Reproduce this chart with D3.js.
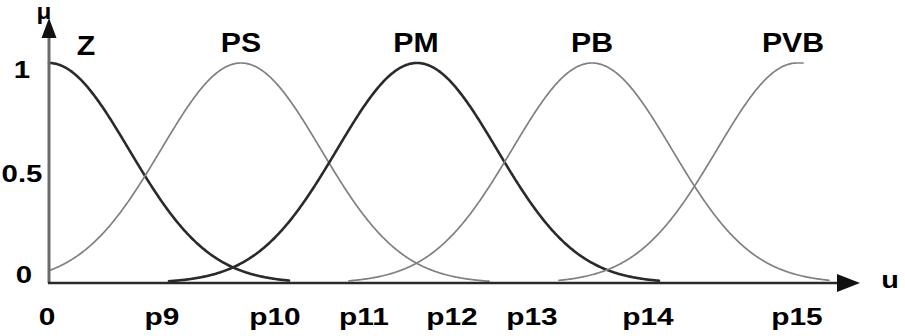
<!DOCTYPE html>
<html><head><meta charset="utf-8">
<script src="https://cdn.jsdelivr.net/npm/d3@7"></script>
<style>
html,body{margin:0;padding:0;background:#fff;}
svg{display:block;}
text{font-family:"Liberation Sans",Arial,sans-serif;font-weight:bold;fill:#000;}
</style></head>
<body>
<svg id="chart" width="905" height="336"></svg>
<script>
// ---- data ----
const setNames   = ["Z", "PS", "PM", "PB", "PVB"];
const setCenters = [0, 1.92, 3.68, 5.43, 7.48];
const setSigmas  = [0.80, 0.80, 0.80, 0.80, 0.80];
const setFrom    = [0, 0, 1.2, 3.0, 5.1];
const setTo      = [2.4, 4.4, 6.1, 7.8, 7.54];
const setDark    = [true, false, true, false, false];
const xTickPos    = [-0.02, 1.13, 2.26, 3.15, 4.03, 4.83, 5.99, 7.48];
const xTickLabels = ["0", "p9", "p10", "p11", "p12", "p13", "p14", "p15"];
const yTickVals   = [0, 0.5, 1];
const yTickLabels = ["0", "0.5", "1"];

const svg = d3.select("#chart");
const x = d3.scaleLinear().domain([0, 8.11]).range([49, 860]);
const y = d3.scaleLinear().domain([0, 1]).range([283, 63]);

// membership curves
const line = d3.line().x(d => x(d[0])).y(d => y(d[1])).curve(d3.curveLinear);
setNames.forEach((n, i) => {
  const c = setCenters[i], s = setSigmas[i];
  const pts = [];
  const step = 0.01;
  for (let u = setFrom[i]; u <= setTo[i] + 1e-9; u += step) {
    const v = (i === setNames.length - 1 && u >= c) ? 1 : Math.exp(-((u - c) ** 2) / (2 * s * s));
    pts.push([u, v]);
  }
  svg.append("path").datum(pts)
    .attr("d", line)
    .attr("fill", "none")
    .attr("stroke", setDark[i] ? "#2a2a2a" : "#808080")
    .attr("stroke-width", setDark[i] ? 2.6 : 1.7)
    .attr("stroke-linecap", "round");
});

// axes lines with arrows
svg.append("line").attr("x1", 49).attr("y1", y(0)).attr("x2", 49).attr("y2", 36)
  .attr("stroke", "#6a6a6a").attr("stroke-width", 3);
svg.append("path").attr("d", "M41.5,38 L56.5,38 L49,18 Z").attr("fill", "#111");
svg.append("line").attr("x1", 48).attr("y1", y(0)).attr("x2", 840).attr("y2", y(0))
  .attr("stroke", "#2a2a2a").attr("stroke-width", 2.6);
svg.append("path").attr("d", `M837,${y(0)-9} L837,${y(0)+9} L860,${y(0)} Z`).attr("fill", "#111");

// x axis labels via d3 axis
const xAxis = d3.axisBottom(x).tickValues(xTickPos).tickFormat((d, i) => xTickLabels[i]).tickSize(0);
const gx = svg.append("g").call(xAxis);
gx.select(".domain").remove();
gx.selectAll(".tick").each(function (d) {
  d3.select(this).attr("transform", null);
  d3.select(this).select("text")
    .attr("x", 0).attr("y", 0).attr("dy", 0)
    .attr("font-size", 23.5).attr("font-family", null)
    .attr("transform", `translate(${x(d)},325) scale(1.27,1)`);
});

// y axis labels via d3 axis
const yAxis = d3.axisLeft(y).tickValues(yTickVals).tickFormat((d, i) => yTickLabels[i]).tickSize(0);
const gy = svg.append("g").call(yAxis);
gy.select(".domain").remove();
const yLabelPos = [[24, 283], [22, 182], [22, 78]];
gy.selectAll(".tick").each(function (d, i) {
  d3.select(this).attr("transform", null);
  d3.select(this).select("text")
    .attr("x", 0).attr("y", 0).attr("dy", 0)
    .attr("text-anchor", "middle")
    .attr("font-size", 23.5).attr("font-family", null)
    .attr("transform", `translate(${yLabelPos[i][0]},${yLabelPos[i][1]}) scale(1.25,1)`);
});

// set name labels
const nameX = [86, 241, 416, 592, 793];
const nameY = [55, 52, 52, 52, 52];
setNames.forEach((n, i) => {
  svg.append("text").text(n)
    .attr("text-anchor", "middle")
    .attr("font-size", 27)
    .attr("transform", `translate(${nameX[i]},${nameY[i]}) scale(1.12,1)`);
});

// axis names
svg.append("text").text("μ").attr("text-anchor", "middle").attr("font-size", 22)
  .attr("transform", "translate(44,19) scale(1.1,1)");
svg.append("text").text("u").attr("text-anchor", "middle").attr("font-size", 24)
  .attr("transform", "translate(890,288) scale(1.2,1)");
</script>
</body></html>
